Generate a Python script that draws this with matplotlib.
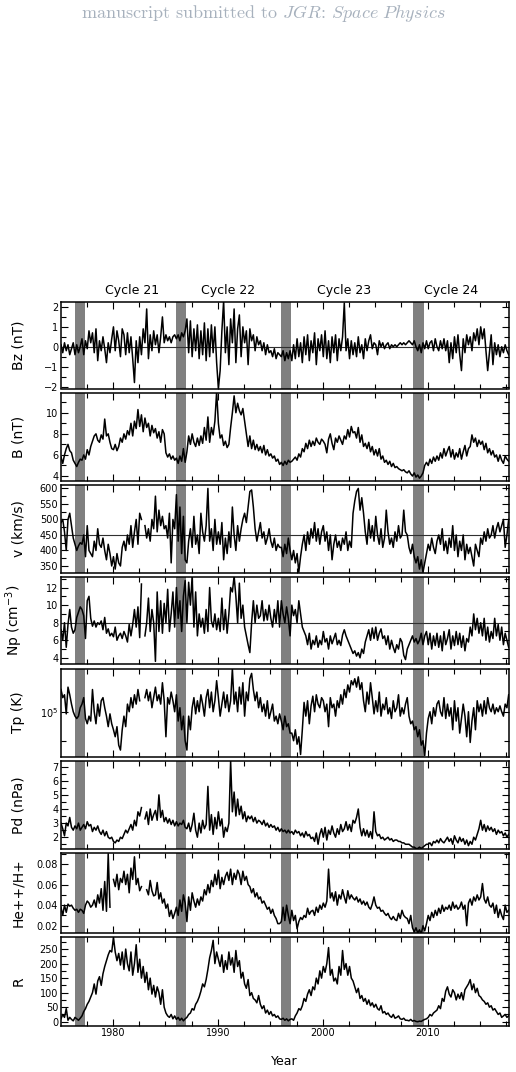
import matplotlib
matplotlib.use("Agg")
import matplotlib.pyplot as plt
import numpy as np
from matplotlib.ticker import MultipleLocator, FixedLocator, NullFormatter
from matplotlib.font_manager import FontProperties

nan = np.nan

# bimonthly averages, first point at 1975.05, step 1/6 yr (one row per year)
bz = [0.1, -0.3, 0.2, -0.2, 0.1, -0.4,
      -0.1, 0.2, -0.4, 0.1, -0.3, 0.0,
      0.4, -0.4, 0.3, -0.1, 0.8, 0.2,
      0.7, -0.3, 0.9, -0.7, 0.3, -0.2,
      0.5, -0.1, -0.8, 0.2, -0.3, 0.4,
      1.0, -0.2, 0.8, 0.3, -0.5, 0.9,
      0.6, -0.4, 0.7, -0.3, 0.5, -0.6,
      -1.8, 0.3, -0.8, 0.5, -0.4, 0.9,
      0.2, 1.9, -0.6, 0.6, -0.2, 0.8,
      0.1, 0.6, -0.3, 0.5, 1.5, 0.2,
      0.6, 0.3, 0.5, 0.2, 0.5, 0.6,
      0.4, 0.6, 0.3, 0.7, 0.5, 0.8,
      1.4, -0.3, 1.3, -0.5, 0.9, -0.2,
      1.1, -0.6, 0.8, -0.4, 1.2, -0.7,
      0.9, -0.5, 1.1, -0.3, 1.0, -0.8,
      -2.1, -1.2, 0.8, 2.3, -0.3, 1.0,
      -0.9, 1.4, 0.2, 1.9, -0.8, 0.9,
      1.6, -0.5, 1.0, 0.2, 0.8, -0.9,
      0.9, 0.3, 0.6, -0.2, 0.5, 0.1,
      0.3, -0.2, 0.2, -0.4, 0.1, -0.3,
      -0.2, -0.5, -0.1, -0.6, -0.3, -0.4,
      -0.5, -0.2, -0.7, -0.3, -0.6, -0.2,
      -0.7, 0.1, -0.6, 0.4, -0.5, 0.2,
      -0.8, 0.5, -0.4, 0.6, -0.7, 0.3,
      -0.3, 0.7, -0.9, 0.4, -0.2, 0.6,
      -0.5, 0.8, -0.6, 0.3, -0.8, 0.5,
      -0.3, 0.6, -0.7, 0.4, -0.2, 0.5,
      2.2, -0.2, 0.4, -0.6, 0.3, -0.4,
      0.2, -0.5, 0.5, -0.3, 0.1, -0.6,
      0.4, -0.2, 0.3, 0.6, -0.1, 0.2,
      0.1, -0.4, 0.3, 0.0, 0.2, -0.1,
      0.1, 0.2, -0.1, 0.1, 0.0, 0.1,
      0.0, 0.1, 0.2, 0.1, 0.2, 0.1,
      0.2, 0.3, 0.2, 0.1, 0.3, 0.0,
      -0.2, 0.1, -0.3, 0.2, -0.1, 0.3,
      -0.1, 0.2, 0.3, -0.2, 0.4, 0.0,
      -0.2, 0.3, -0.1, 0.4, -0.2, 0.3,
      -0.8, 0.2, -0.6, 0.5, -0.3, 0.6,
      -0.4, -1.2, 0.4, -0.3, 0.6, 0.1,
      0.5, -0.2, 0.7, 0.3, 0.9, 0.1,
      1.0, 0.4, 0.9, -0.2, -1.2, -0.3,
      0.6, -0.9, 0.2, -0.4, 0.1, -0.5,
      0.0, -0.3, 0.1, -0.2, -0.4]

b_mag = [5.8, 5.2, 6.0, 6.6, 7.0, 6.4,
         6.2, 5.5, 5.2, 4.9, 5.3, 5.6,
         5.5, 6.0, 5.6, 6.5, 6.0, 6.8,
         7.3, 7.8, 8.0, 7.4, 7.2, 7.9,
         7.5, 9.4, 7.8, 8.0, 7.2, 6.6,
         6.5, 7.0, 6.4, 6.8, 7.6, 7.2,
         8.0, 7.5, 8.3, 7.9, 9.0, 7.8,
         9.2, 8.5, 10.3, 8.7, 9.8, 8.2,
         9.5, 8.6, 9.0, 7.8, 8.8, 8.1,
         8.5, 7.6, 8.2, 7.2, 8.4, 8.0,
         6.2, 5.8, 6.1, 5.6, 5.9, 5.5,
         5.7, 5.2, 5.9, 5.4, 6.6, 5.3,
         6.3, 7.8, 7.0, 8.0, 7.2, 6.8,
         7.6, 6.9, 7.8, 7.1, 8.6, 7.4,
         9.6, 7.2, 8.6, 7.9, 9.2, 12.0,
         9.0, 7.6, 7.9, 6.9, 7.3, 6.7,
         7.0, 8.6, 10.0, 11.6, 10.0, 10.9,
         10.2, 9.8, 10.4, 9.2, 8.0, 6.8,
         7.8, 6.6, 7.4, 6.5, 7.0, 6.4,
         6.8, 6.2, 6.9, 6.0, 6.5, 5.9,
         6.1, 5.7, 5.9, 5.4, 5.6, 5.1,
         5.3, 5.0, 5.4, 5.1, 5.5, 5.3,
         5.4, 5.6, 5.8, 5.5, 6.1, 5.8,
         6.6, 6.3, 7.1, 6.6, 7.4, 6.8,
         7.3, 6.9, 7.6, 7.2, 7.0, 7.5,
         7.3, 7.0, 6.2, 7.5, 8.0, 7.1,
         6.5, 7.6, 7.2, 7.8, 7.4, 7.0,
         7.8, 7.5, 8.4, 7.7, 8.7, 8.1,
         8.2, 7.6, 8.6, 7.2, 7.9, 6.8,
         7.1, 6.6, 7.2, 6.3, 6.8, 6.0,
         6.5, 5.9, 6.6, 5.6, 5.9, 5.3,
         5.5, 5.1, 5.4, 4.9, 5.2, 4.8,
         4.9, 4.7, 4.6, 4.5, 4.6, 4.4,
         4.3, 4.5, 4.2, 4.0, 4.3, 3.9,
         4.1, 3.8, 4.0, 4.3, 5.0, 5.3,
         5.0, 5.6, 5.2, 5.8, 5.4, 5.9,
         5.5, 6.2, 5.7, 6.6, 5.9, 6.4,
         6.8, 5.8, 6.5, 5.6, 6.2, 5.8,
         6.6, 5.6, 6.3, 6.9, 5.9, 6.6,
         6.8, 7.9, 7.2, 7.6, 6.8, 7.4,
         7.0, 7.3, 6.5, 7.1, 6.2, 6.6,
         6.0, 6.4, 5.8, 6.0, 5.4, 6.0,
         5.5, 5.2, 5.9, 5.6, 5.4]

vsw = [490, 500, 460, 400, 500, 520,
       480, 440, 420, 400, 415, 425,
       420, 450, 380, 480, 400, 390,
       380, 430, 400, 470, 420, 410,
       440, 400, 370, 420, 390, 350,
       380, 340, 390, 360, 350, 410,
       430, 400, 450, 420, 480, 410,
       460, 500, 420, 520, 500, nan,
       480, 440, 470, 430, 500, 470,
       575, 460, 530, 480, 510, 470,
       480, 440, 520, 360, 500, 470,
       580, 430, 540, 390, 510, 370,
       360, 430, 470, 410, 510, 420,
       450, 390, 520, 460, 430, 480,
       600, 430, 470, 400, 500, 420,
       460, 420, 490, 370, 440, 390,
       460, 410, 540, 450, 400, 480,
       430, 470, 500, 520, 490, 540,
       590, 595, 540, 470, 430, 460,
       490, 440, 460, 420, 440, 470,
       430, 410, 440, 400, 420, 410,
       410, 380, 420, 390, 440, 400,
       370, 400, 360, 390, 330, 380,
       420, 450, 400, 460, 420, 470,
       440, 490, 430, 470, 420, 460,
       480, 430, 460, 400, 450, 370,
       420, 450, 410, 430, 400, 440,
       420, 460, 400, 430, 410, 520,
       560, 590, 600, 530, 570, 520,
       460, 420, 500, 440, 480, 430,
       510, 450, 420, 470, 410, 440,
       530, 460, 420, 440, 410, 460,
       430, 480, 440, 450, 530, 460,
       450, 410, 390, 420, 380, 360,
       380, 340, 370, 330, 360, 390,
       420, 400, 440, 410, 390, 430,
       450, 420, 470, 400, 430, 390,
       440, 410, 480, 400, 450, 380,
       430, 400, 450, 370, 420, 390,
       410, 380, 350, 420, 400, 380,
       440, 420, 460, 430, 470, 440,
       450, 480, 440, 470, 490, 460,
       480, 500, 410, 450, 500]

np_dens = [7.2, 6.0, 8.0, 5.2, 7.8, 9.5,
           7.5, 6.8, 7.2, 8.6, 9.2, 9.8,
           9.5, 8.8, 6.2, 10.5, 11.0, 8.5,
           7.6, 8.2, 7.5, 8.0, 7.8, 8.2,
           7.2, 8.6, 6.8, 7.3, 6.5, 6.8,
           6.4, 7.5, 6.0, 6.5, 6.8, 6.2,
           7.0, 6.5, 5.8, 7.8, 6.5, 7.8,
           9.5, 7.5, 9.8, 6.3, 12.4, nan,
           6.5, 8.0, 10.8, 7.0, 9.5, 8.0,
           3.6, 11.5, 7.0, 10.5, 6.8, 10.2,
           8.0, 11.8, 7.0, 9.0, 11.5, 7.5,
           12.0, 8.5, 10.5, 7.0, 11.0, 12.8,
           8.0, 12.6, 10.0, 13.3, 7.5, 11.5,
           6.5, 9.0, 7.5, 8.5, 6.8, 9.5,
           7.0, 12.0, 8.2, 7.5, 9.0, 7.2,
           8.5, 7.0, 10.8, 7.2, 9.5, 6.8,
           9.0, 12.0, 11.5, 13.3, 11.0, 8.0,
           12.5, 8.5, 10.0, 7.5, 6.5, 5.5,
           4.6, 8.0, 10.5, 8.0, 10.0, 8.5,
           8.8, 10.5, 8.2, 9.5, 8.3, 10.0,
           8.5, 7.5, 9.5, 8.0, 10.5, 7.5,
           10.5, 9.0, 8.0, 9.8, 8.5, 6.5,
           10.0, 8.8, 9.5, 8.0, 10.5, 9.0,
           7.5, 7.0, 6.5, 5.5, 6.8, 5.0,
           6.0, 5.5, 6.5, 5.2, 6.0, 5.5,
           7.0, 5.8, 6.2, 5.0, 6.5, 5.6,
           6.2, 6.8, 5.5, 6.0, 5.4, 6.6,
           7.2, 6.5, 6.0, 5.5, 5.0, 4.5,
           4.8, 4.2, 4.6, 4.0, 5.0, 4.5,
           5.8, 6.5, 7.2, 6.0, 7.4, 6.2,
           7.5, 6.0, 6.8, 7.3, 6.2, 6.5,
           5.5, 6.5, 5.0, 6.0, 5.2, 4.6,
           5.5, 5.0, 6.2, 5.8, 4.3, 3.8,
           5.0, 5.5, 6.0, 6.5, 5.8, 6.2,
           5.6, 6.0, 6.8, 5.5, 6.5, 7.0,
           5.5, 6.8, 5.0, 6.5, 5.4, 6.8,
           5.2, 6.5, 4.8, 7.0, 5.5, 6.2,
           7.2, 5.0, 6.5, 5.4, 7.0, 5.5,
           6.8, 5.2, 6.5, 4.8, 6.2, 5.8,
           7.5, 6.5, 9.0, 7.2, 8.5, 6.8,
           8.0, 6.5, 8.5, 6.0, 7.5, 5.8,
           7.0, 6.2, 8.5, 6.5, 7.8, 6.0,
           7.5, 5.5, 6.8, 6.0, 5.2]

# proton temperature in units of 1e4 K
tp_1e4 = [17, 14, 15, 9.5, 18, 15,
          12, 10, 9, 8.5, 9, 11,
          12, 14, 8.5, 7.5, 9, 8.0,
          17, 10, 7.5, 12, 9, 13,
          14, 11, 9, 7, 9.5, 7.5,
          6.5, 5.5, 7, 4.5, 4.0, 6.5,
          9, 7, 12, 10, 14, 11,
          15, 12, 17, 13, nan, nan,
          14, 17, 13, 16, 11, 14,
          18, 13, 15, 12, 20, 13,
          5.5, 14, 12, 16, 13, 10,
          15, 8, 11, 6.5, 9, 5.0,
          4.0, 9, 6.5, 11, 14, 9.5,
          13, 10, 15, 12, 9, 14,
          17, 11, 16, 10, 13, 21,
          14, 9, 12, 16, 11, 15,
          10, 13, 28, 12, 16, 10,
          18, 12, 20, 9, 16, 13,
          22, 25, 17, 13, 16, 11,
          14, 10, 12, 9, 13, 8.5,
          10, 12, 8, 9, 7.5, 9.5,
          8, 6.5, 9, 7, 7.5, 6.0,
          6.0, 5.0, 6.5, 4.6, 5.5, 3.6,
          6.5, 12.5, 9.0, 13.0, 7.5, 11.5,
          14.5, 10, 15, 12, 11, 14,
          13, 10, 12, 7.0, 14, 11,
          12, 9, 13, 11, 15, 12,
          17, 14, 19, 16, 21, 19,
          22, 18, 23, 17, 20, 13,
          10, 16, 12, 20, 14, 9.5,
          13, 10, 16, 9, 12, 10.5,
          14, 9.5, 11, 8.5, 13, 10,
          11, 15, 9, 11, 9.5, 12,
          14, 9, 7.5, 8.0, 6.5, 7,
          5.5, 6.5, 4.5, 5.0, 3.5, 6.0,
          8.5, 10, 7.5, 11, 9.0, 12,
          13, 10, 9, 14, 8.5, 12,
          9, 11, 6.5, 13, 8.0, 11,
          6.0, 8.5, 12, 9, 5.5, 10,
          4.8, 8, 11, 6.5, 13, 10,
          12, 9, 13, 9.5, 14, 11,
          10, 12, 9.5, 11, 10, 11.5,
          10, 9, 12, 11, 15]

pdyn = [3.0, 2.6, 2.1, 3.0, 2.8, 3.4,
        2.7, 2.5, 2.8, 2.6, 3.0, 2.5,
        2.7, 2.9, 2.6, 3.1, 2.8, 2.9,
        2.4, 2.7, 2.5, 2.8, 2.4, 2.2,
        2.5, 2.1, 2.4, 2.0, 1.9, 2.0,
        1.7, 1.6, 1.8, 1.7, 2.0, 1.9,
        2.2, 2.5, 2.3, 2.6, 2.9, 2.5,
        3.2, 2.8, 3.8, 3.5, 4.1, nan,
        3.3, 3.8, 2.9, 4.0, 3.2, 3.6,
        3.9, 3.2, 5.0, 3.4, 3.9, 3.1,
        3.4, 3.0, 3.3, 2.9, 3.2, 2.8,
        3.1, 2.8, 3.0, 2.9, 3.2, 2.7,
        2.6, 3.0, 2.4, 2.9, 3.7, 2.5,
        2.0, 3.0, 2.3, 3.2, 2.6, 2.9,
        5.6, 2.5, 3.6, 2.2, 3.4, 2.6,
        3.8, 2.8, 3.3, 2.0, 2.7, 2.4,
        3.0, 7.4, 3.8, 5.2, 3.5, 4.7,
        3.6, 4.2, 3.3, 3.8, 3.1, 3.5,
        3.3, 3.5, 3.1, 3.4, 3.0, 3.2,
        3.1, 2.9, 3.2, 2.8, 3.0, 2.7,
        2.9, 2.7, 2.8, 2.5, 2.7, 2.4,
        2.6, 2.4, 2.5, 2.3, 2.5, 2.3,
        2.4, 2.2, 2.5, 2.3, 2.4, 2.1,
        2.3, 2.0, 2.4, 2.1, 2.2, 1.9,
        2.0, 1.7, 2.3, 1.5, 2.2, 2.6,
        2.0, 2.7, 1.8, 2.5, 2.2, 2.8,
        2.3, 2.0, 2.6, 2.2, 2.9, 2.4,
        2.6, 3.1, 2.5, 2.9, 2.4, 3.2,
        3.0, 3.4, 4.0, 2.7, 2.1, 2.6,
        2.1, 2.5, 2.0, 2.4, 1.9, 3.8,
        2.4, 2.1, 2.2, 1.9, 2.0, 1.8,
        1.9, 2.0, 1.8, 1.9, 1.7, 1.8,
        1.8, 1.7, 1.7, 1.6, 1.6, 1.5,
        1.5, 1.5, 1.4, 1.3, 1.3, 1.2,
        1.2, 1.3, 1.2, 1.3, 1.4, 1.5,
        1.5, 1.6, 1.4, 1.7, 1.6, 1.8,
        1.6, 1.9, 1.7, 1.6, 1.8, 2.0,
        1.7, 1.9, 1.5, 2.1, 1.8, 1.6,
        2.0, 1.7, 1.9, 1.5, 1.8, 1.4,
        1.7, 1.5, 2.0, 1.8, 2.2, 2.6,
        3.2, 2.5, 2.9, 2.4, 2.8, 2.5,
        2.7, 2.4, 2.6, 2.2, 2.5, 2.3,
        2.4, 2.1, 2.3, 2.0, 2.2]

he_ratio = [0.038, 0.030, 0.040, 0.033, 0.041, 0.039,
            0.040, 0.037, 0.035, 0.036, 0.033, 0.036,
            0.035, 0.032, 0.040, 0.044, 0.042, 0.038,
            0.040, 0.045, 0.038, 0.050, 0.042, 0.056,
            0.035, 0.063, 0.034, 0.090, 0.038, nan,
            0.065, 0.058, 0.070, 0.055, 0.066, 0.062,
            0.073, 0.060, 0.070, 0.052, 0.076, 0.065,
            0.087, 0.060, 0.066, 0.054, 0.058, nan,
            nan, 0.055, 0.050, 0.064, 0.054, 0.049,
            0.050, 0.062, 0.046, 0.052, 0.042, 0.046,
            0.037, 0.041, 0.029, 0.035, 0.027, 0.032,
            0.038, 0.030, 0.045, 0.034, 0.050, 0.042,
            0.024, 0.048, 0.035, 0.052, 0.044, 0.038,
            0.046, 0.040, 0.048, 0.044, 0.055, 0.050,
            0.060, 0.052, 0.064, 0.058, 0.070, 0.060,
            0.074, 0.056, 0.067, 0.060, 0.068, 0.072,
            0.064, 0.075, 0.060, 0.071, 0.065, 0.074,
            0.070, 0.060, 0.073, 0.064, 0.068, 0.060,
            0.058, 0.052, 0.056, 0.048, 0.052, 0.046,
            0.048, 0.042, 0.044, 0.040, 0.036, 0.038,
            0.032, 0.036, 0.030, 0.027, 0.022, 0.022,
            0.024, 0.038, 0.025, 0.040, 0.030, 0.022,
            0.035, 0.025, 0.030, 0.017, 0.024, 0.028,
            0.026, 0.030, 0.028, 0.037, 0.031, 0.034,
            0.035, 0.030, 0.038, 0.033, 0.040, 0.036,
            0.042, 0.038, 0.044, 0.075, 0.047, 0.052,
            0.044, 0.053, 0.040, 0.050, 0.046, 0.055,
            0.048, 0.042, 0.054, 0.046, 0.050, 0.047,
            0.045, 0.048, 0.043, 0.046, 0.041, 0.044,
            0.040, 0.043, 0.038, 0.036, 0.041, 0.048,
            0.040, 0.037, 0.038, 0.034, 0.035, 0.032,
            0.030, 0.032, 0.028, 0.026, 0.029, 0.026,
            0.025, 0.032, 0.027, 0.035, 0.030, 0.028,
            0.027, 0.022, 0.030, 0.018, 0.014, 0.018,
            0.013, 0.016, 0.012, 0.020, 0.015, 0.022,
            0.030, 0.025, 0.033, 0.028, 0.035, 0.030,
            0.037, 0.032, 0.040, 0.034, 0.038, 0.036,
            0.040, 0.035, 0.043, 0.037, 0.040, 0.036,
            0.038, 0.043, 0.036, 0.040, 0.020, 0.042,
            0.046, 0.040, 0.048, 0.044, 0.050, 0.045,
            0.048, 0.061, 0.046, 0.042, 0.048, 0.040,
            0.038, 0.042, 0.032, 0.040, 0.028, 0.036,
            0.030, 0.026, 0.040, 0.033, 0.035]

sunspot = [10, 25, 15, 45, 5, 15,
           8, 3, 15, 10, 5, 12,
           20, 35, 45, 60, 70, 85,
           100, 130, 95, 140, 155, 125,
           165, 190, 210, 230, 245, 240,
           290, 240, 210, 235, 195, 240,
           180, 250, 200, 175, 240, 160,
           200, 265, 170, 215, 150, 190,
           135, 170, 110, 150, 95, 125,
           85, 120, 100, 60, 110, 50,
           30, 20, 15, 25, 10, 20,
           8, 15, 5, 12, 3, 10,
           15, 25, 30, 45, 40, 60,
           70, 85, 105, 130, 120, 145,
           180, 220, 245, 280, 200, 240,
           215, 190, 230, 170, 210, 180,
           240, 195, 220, 170, 245, 190,
           210, 150, 170, 130, 115, 145,
           90, 100, 80, 75, 65, 90,
           60, 45, 55, 30, 40, 25,
           35, 20, 25, 15, 20, 10,
           8, 12, 5, 10, 3, 8,
           10, 5, 20, 30, 45, 40,
           55, 80, 70, 95, 110, 90,
           120, 110, 150, 130, 175, 150,
           190, 170, 200, 255, 160, 180,
           140, 150, 130, 190, 160, 245,
           180, 200, 160, 190, 150, 140,
           120, 100, 115, 80, 90, 70,
           80, 60, 75, 55, 65, 50,
           60, 45, 40, 55, 30, 35,
           25, 30, 20, 15, 25, 12,
           15, 20, 10, 8, 12, 5,
           5, 3, 8, 2, 4, 1,
           0, 2, 1, 5, 8, 10,
           15, 25, 20, 30, 35, 40,
           55, 45, 80, 70, 105, 120,
           95, 85, 110, 100, 75, 95,
           80, 100, 75, 110, 120, 130,
           145, 110, 130, 100, 115, 90,
           85, 75, 70, 60, 65, 50,
           55, 40, 45, 35, 25, 30,
           15, 20, 25, 15, 20]

# solar minimum intervals (grey bands)
minima = [(1976.35, 1977.35), (1986.0, 1987.0), (1996.0, 1997.0), (2008.6, 2009.6)]
cycle_names = ['Cycle 21', 'Cycle 22', 'Cycle 23', 'Cycle 24']
cycle_pos = [1981.8, 1991.0, 2002.05, 2012.2]

plt.rcParams['mathtext.fontset'] = 'dejavusans'

W, H = 516, 1072
fig = plt.figure(figsize=(W / 100, H / 100), dpi=100)

left, right = 61, 508.5
x0, x1 = 1975.05, 2017.7
# (top, bottom) in pixels for each panel
rows = [(302, 388.5), (393, 481), (485, 572.5), (577, 664),
        (668.5, 756.5), (761, 848.5), (853, 932.5), (937, 1025.5)]

panels = [
    (bz, 'Bz (nT)', (-2.1, 2.25), 1, 0.5, 0.0),
    (b_mag, 'B (nT)', (3.53, 11.87), 2, 1, None),
    (vsw, 'v (km/s)', (329, 611), 50, 25, 450),
    (np_dens, r'Np (cm$^{-3}$)', (3.3, 13.2), 2, 1, 8),
    (np.array(tp_1e4) * 1e4, 'Tp (K)', (3.43e4, 2.81e5), None, None, None),
    (pdyn, 'Pd (nPa)', (1.2, 7.4), 1, 0.5, None),
    (he_ratio, 'He++/H+', (0.0134, 0.0907), 0.02, 0.01, None),
    (sunspot, 'R', (-13, 291.5), 50, 25, None),
]

tick_fs = 7
for i, (vals, lab, ylim, maj, mnr, ref) in enumerate(panels):
    top, bot = rows[i]
    ax = fig.add_axes([left / W, 1 - bot / H, (right - left) / W, (bot - top) / H])
    vals = np.asarray(vals, dtype=float)
    t = x0 + np.arange(len(vals)) / 6.0
    for a, b in minima:
        ax.axvspan(a, b, color='#808080', lw=0, zorder=1)
    if ref is not None:
        ax.axhline(ref, color='#303030', lw=0.8, zorder=2)
    ax.plot(t, vals, color='black', lw=1.1, zorder=3)
    if lab == 'Tp (K)':
        ax.set_yscale('log')
        ax.yaxis.set_major_locator(FixedLocator([1e5]))
        ax.yaxis.set_minor_locator(FixedLocator([5e4]))
        ax.yaxis.set_minor_formatter(NullFormatter())
        ax.set_yticklabels([r'10$^5$'])
    else:
        ax.yaxis.set_major_locator(MultipleLocator(maj))
        ax.yaxis.set_minor_locator(MultipleLocator(mnr))
    if lab == 'He++/H+':
        ax.yaxis.set_major_formatter(plt.FuncFormatter(lambda v, p: '%.2f' % v))
    ax.set_ylim(*ylim)
    ax.set_xlim(x0, x1)
    ax.xaxis.set_major_locator(MultipleLocator(10))
    ax.xaxis.set_minor_locator(MultipleLocator(2.5))
    ax.tick_params(which='both', direction='in', top=True, right=True,
                   labelsize=tick_fs, width=0.8, pad=2)
    ax.tick_params(which='major', length=5)
    ax.tick_params(which='minor', length=3.5)
    for s in ax.spines.values():
        s.set_linewidth(1.1)
    ax.set_ylabel(lab, fontsize=10)
    ax.yaxis.set_label_coords(-0.08, 0.5)
    if i < len(panels) - 1:
        ax.set_xticklabels([])
    else:
        ax.set_xlabel('Year', fontsize=9, labelpad=12)
    if i == 0:
        for name, pos in zip(cycle_names, cycle_pos):
            ax.text(pos, 1.06, name, transform=ax.get_xaxis_transform(),
                    ha='center', va='bottom', fontsize=9)

# header line in Computer Modern
cmr = FontProperties(fname=matplotlib.get_data_path() + '/fonts/ttf/cmr10.ttf',
                     size=13, math_fontfamily='cm')
fig.text(263 / W, 1 - 14 / H,
         r'manuscript submitted to $JGR$: $Space\ Physics$',
         ha='center', va='center', fontproperties=cmr, color='#a7b1bd')

fig.savefig('out.png', dpi=100)
